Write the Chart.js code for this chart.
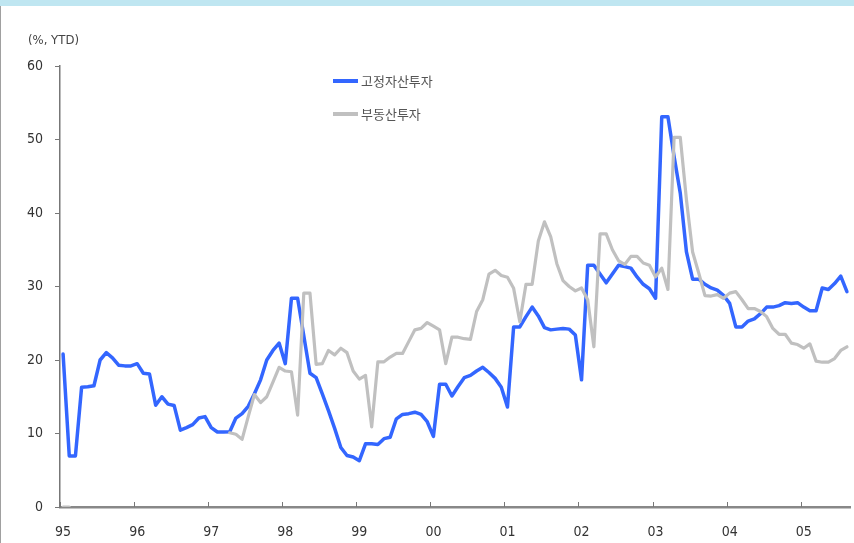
<!DOCTYPE html>
<html>
<head>
<meta charset="utf-8">
<script src="https://cdn.jsdelivr.net/npm/chart.js@4.4.1/dist/chart.umd.min.js"></script>
<style>
    body { margin: 0; background: #fff; }
    #wrap { position: relative; width: 854px; height: 543px; overflow: hidden; }
    #band { position: absolute; left: 0; top: 0; width: 854px; height: 6px; background: #bfe6f1; }
    #edge { position: absolute; left: 0; top: 6px; width: 1px; height: 537px; background: #a0a0a0; }
    #unit { position: absolute; left: 28px; top: 32px; font: 13px 'Liberation Sans Narrow', 'DejaVu Sans Condensed', Arial, sans-serif; color: #444; }
    .leg { position: absolute; left: 333px; font: 13px 'Noto Sans CJK KR', sans-serif; color: #555; line-height: 16px; }
    .leg i { display: inline-block; width: 25px; height: 4px; vertical-align: middle; margin-right: 3px; position: relative; top: -1px; }
    canvas { position: absolute; left: 0; top: 0; }
</style>
</head>
<body>
<div id="wrap">
    <div id="band"></div>
    <div id="edge"></div>
    <canvas id="chart" width="854" height="543"></canvas>
    <div id="unit">(%, YTD)</div>
    <div class="leg" style="top:73px"><i style="background:#3366ff"></i>고정자산투자</div>
    <div class="leg" style="top:106px"><i style="background:#c0c0c0"></i>부동산투자</div>
</div>
<script>
const years = ['95', '96', '97', '98', '99', '00', '01', '02', '03', '04', '05'];
const monthsShown = 128; // 1995.01 ~ 2005.08

const fixedAsset = [
    20.8, 6.95, 6.95, 16.3, 16.35, 16.5, 20.0, 21.0, 20.3, 19.3, 19.2, 19.2,
    19.5, 18.2, 18.1, 13.85, 15.0, 14.0, 13.8, 10.45, 10.8, 11.2, 12.1, 12.3,
    10.8, 10.2, 10.2, 10.25, 12.1, 12.7, 13.7, 15.4, 17.3, 20.0, 21.3, 22.3,
    19.5, 28.4, 28.4, 23.3, 18.2, 17.6, 15.4, 13.1, 10.7, 8.1, 7.0, 6.8,
    6.3, 8.6, 8.6, 8.5, 9.3, 9.5, 12.0, 12.6, 12.7, 12.9, 12.6, 11.6,
    9.6, 16.7, 16.7, 15.1, 16.4, 17.6, 17.9, 18.5, 19.0, 18.3, 17.5, 16.3,
    13.6, 24.5, 24.5, 25.9, 27.2, 26.0, 24.4, 24.1, 24.2, 24.3, 24.2, 23.4,
    17.3, 32.9, 32.9, 31.7, 30.5, 31.7, 32.9, 32.7, 32.5, 31.3, 30.3, 29.7,
    28.4, 53.1, 53.1, 47.7, 42.7, 34.7, 31.0, 31.0, 30.3, 29.8, 29.5, 28.8,
    27.7, 24.5, 24.5, 25.3, 25.6, 26.3, 27.2, 27.2, 27.4, 27.8, 27.7, 27.8,
    27.2, 26.7, 26.7, 29.8, 29.6, 30.4, 31.4, 29.3
];

const realEstate = [
    0, 0, null, null, null, null, null, null, null, null, null, null,
    null, null, null, null, null, null, null, null, null, null, null, null,
    null, null, null, 10.1, 9.9, 9.2, 12.3, 15.3, 14.2, 15.0, 17.0, 19.0,
    18.5, 18.4, 12.5, 29.1, 29.1, 19.4, 19.5, 21.3, 20.7, 21.6, 21.0, 18.5,
    17.4, 17.9, 10.9, 19.75, 19.75, 20.4, 20.9, 20.9, 22.5, 24.1, 24.3, 25.1,
    24.6, 24.1, 19.5, 23.1, 23.1, 22.9, 22.8, 26.6, 28.2, 31.7, 32.2, 31.5,
    31.25, 29.75, 25.2, 30.3, 30.3, 36.2, 38.8, 36.8, 33.1, 30.8, 30.0, 29.4,
    29.8, 28.2, 21.8, 37.15, 37.15, 35.0, 33.5, 33.0, 34.1, 34.1, 33.2, 32.9,
    31.3, 32.5, 29.6, 50.3, 50.3, 41.8, 34.7, 31.8, 28.75, 28.7, 28.9, 28.4,
    29.1, 29.3, 28.2, 27.0, 27.0, 26.6, 25.9, 24.3, 23.5, 23.5, 22.3, 22.1,
    21.6, 22.2, 19.85, 19.7, 19.7, 20.2, 21.3, 21.8
];

const yTicks = [0, 10, 20, 30, 40, 50, 60];

// month labels built from the years list
const labels = [];
for (let i = 0; i < monthsShown; i++) {
    labels.push(years[Math.floor(i / 12)] + '.' + String(i % 12 + 1).padStart(2, '0'));
}

const tickFont = { family: "'Liberation Sans Narrow', 'DejaVu Sans Condensed', Arial, sans-serif", size: 14 };

// Excel-style tick marks pointing up from the x axis, at each year boundary
const innerTicks = {
    id: 'innerTicks',
    afterDraw(chart) {
        const x = chart.scales.x;
        const ctx = chart.ctx;
        const half = (x.getPixelForValue(1) - x.getPixelForValue(0)) / 2;
        ctx.save();
        ctx.strokeStyle = '#777';
        ctx.lineWidth = 1;
        for (let i = 0; i < monthsShown; i += 12) {
            const px = Math.round(x.getPixelForValue(i) - half) + 0.5;
            ctx.beginPath();
            ctx.moveTo(px, x.top);
            ctx.lineTo(px, x.top - 5);
            ctx.stroke();
        }
        ctx.restore();
    }
};

new Chart(document.getElementById('chart').getContext('2d'), {
    type: 'line',
    data: {
        labels: labels,
        datasets: [{
            label: '고정자산투자',
            data: fixedAsset,
            borderColor: '#3366ff',
            borderWidth: 3.5,
            order: 1
        }, {
            label: '부동산투자',
            data: realEstate,
            borderColor: '#c0c0c0',
            borderWidth: 3.2,
            order: 0
        }]
    },
    options: {
        responsive: false,
        animation: false,
        spanGaps: false,
        elements: {
            point: { radius: 0 },
            line: { tension: 0, borderJoinStyle: 'round', borderCapStyle: 'round' }
        },
        layout: { padding: { top: 66, right: 4, left: 0, bottom: 0 } },
        plugins: {
            legend: { display: false },
            tooltip: { enabled: false }
        },
        scales: {
            x: {
                offset: true,
                grid: { display: false },
                border: { color: '#888', width: 2.5 },
                ticks: {
                    autoSkip: false,
                    maxRotation: 0,
                    padding: 9,
                    color: '#333',
                    font: tickFont,
                    callback: (val, idx) => idx % 12 === 0 ? years[idx / 12] : null
                },
                afterFit: s => { s.height = 36; }
            },
            y: {
                min: yTicks[0],
                max: yTicks[yTicks.length - 1],
                afterBuildTicks: s => { s.ticks = yTicks.map(v => ({ value: v })); },
                grid: { drawOnChartArea: false, tickLength: 5, color: '#777' },
                border: { color: '#777', width: 1.5 },
                ticks: { padding: 12, color: '#333', font: tickFont },
                afterFit: s => { s.width = 60; }
            }
        }
    },
    plugins: [innerTicks]
});
</script>
</body>
</html>
